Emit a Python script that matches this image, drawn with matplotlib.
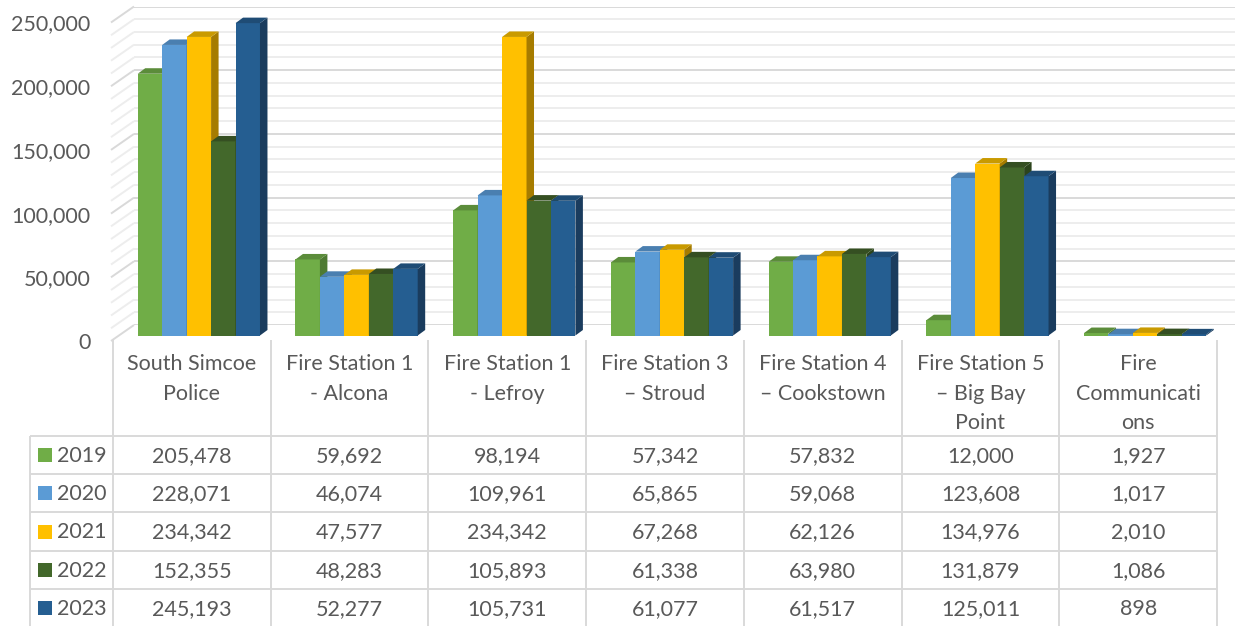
import matplotlib
matplotlib.use("Agg")
import matplotlib.pyplot as plt
from matplotlib.patches import Polygon, Rectangle
from matplotlib.ticker import FuncFormatter, MultipleLocator

# ---------------- data ----------------
categories = ["South Simcoe\nPolice", "Fire Station 1\n- Alcona", "Fire Station 1\n- Lefroy",
              "Fire Station 3\n\u2013 Stroud", "Fire Station 4\n\u2013 Cookstown",
              "Fire Station 5\n\u2013 Big Bay\nPoint", "Fire\nCommunicati\nons"]
years = ["2019", "2020", "2021", "2022", "2023"]
v2019 = [205478, 59692, 98194, 57342, 57832, 12000, 1927]
v2020 = [228071, 46074, 109961, 65865, 59068, 123608, 1017]
v2021 = [234342, 47577, 234342, 67268, 62126, 134976, 2010]
v2022 = [152355, 48283, 105893, 61338, 63980, 131879, 1086]
v2023 = [245193, 52277, 105731, 61077, 61517, 125011, 898]
series = [v2019, v2020, v2021, v2022, v2023]
y_ticks = [0, 50000, 100000, 150000, 200000, 250000]

front_colors = ["#70AD47", "#5B9BD5", "#FFC000", "#43682B", "#255E91"]
top_colors = ["#5B8C3A", "#4A7FB0", "#C99A00", "#354F22", "#1F4C75"]
side_colors = ["#4E7A32", "#3F6E9A", "#A67C00", "#2C441C", "#1A3C5E"]

TXT = "#595959"
GRID = "#D9D9D9"
FONT = "Lato"
FS = 15.5

W, H = 1235, 626
fig = plt.figure(figsize=(W / 100, H / 100), dpi=100)
fig.patch.set_facecolor("white")

def fpos(left_px, top_px, w_px, h_px):
    return [left_px / W, (H - top_px - h_px) / H, w_px / W, h_px / H]

PLOT_H = 318.5
BP_LEFT, BP_BASE = 120, 335.5
BP_W = 1104
WALL_DX, WALL_DY = 14, -10.5
FR_DX, FR_DY = -8, 5.5

bg = fig.add_axes([0, 0, 1, 1])
bg.set_xlim(0, W)
bg.set_ylim(H, 0)
bg.axis("off")

wall = fig.add_axes(fpos(BP_LEFT + WALL_DX, BP_BASE + WALL_DY - PLOT_H, W - (BP_LEFT + WALL_DX), PLOT_H))
wall.set_ylim(0, 250000)
wall.set_xlim(0, 1)
wall.yaxis.set_major_locator(MultipleLocator(50000))
wall.yaxis.set_minor_locator(MultipleLocator(10000))
wall.grid(True, which="major", axis="y", color=GRID, lw=1.4)
wall.grid(True, which="minor", axis="y", color="#EDEDED", lw=1.4)
wall.tick_params(which="both", left=False, bottom=False, labelleft=False, labelbottom=False)
for s in wall.spines.values():
    s.set_visible(False)
wall.patch.set_alpha(0)
wall.set_zorder(1)

front = fig.add_axes(fpos(BP_LEFT + FR_DX, BP_BASE + FR_DY - PLOT_H, BP_W, PLOT_H))
front.set_ylim(0, 250000)
front.set_yticks(y_ticks)
front.yaxis.set_major_formatter(FuncFormatter(lambda v, p: f"{int(v):,}"))
front.tick_params(axis="y", length=0, pad=15.5, labelsize=FS, labelcolor=TXT)
for lab in front.get_yticklabels():
    lab.set_fontfamily(FONT)
front.set_xticks([])
for s in front.spines.values():
    s.set_visible(False)
front.patch.set_alpha(0)
front.set_zorder(0.5)

fig.canvas.draw()
to_bg = bg.transData.inverted()
for v in range(0, 250001, 10000):
    p_back = to_bg.transform(wall.transData.transform((0, v)))
    p_front = to_bg.transform(front.transData.transform((0, v)))
    p_front = (p_front[0] - 1, p_front[1])
    c = GRID if v % 50000 == 0 else "#EDEDED"
    bg.plot([p_front[0], p_back[0]], [p_front[1], p_back[1]], color=c, lw=1.4, zorder=1,
            solid_capstyle="butt")

ax = fig.add_axes(fpos(BP_LEFT, BP_BASE - PLOT_H, BP_W, PLOT_H))
ax.set_xlim(-0.5, 6.5)
ax.set_ylim(0, 250000)
ax.axis("off")
ax.patch.set_alpha(0)
ax.set_zorder(2)

fig.canvas.draw()
inv = ax.transData.inverted()
p0 = ax.transData.transform((0, 0))
d = inv.transform((p0[0] + 7.5, p0[1] + 5.5))
ddx, ddy = d[0], d[1]

n = len(categories)
bw = 0.155
for i in range(n):
    for k, vals in enumerate(series):
        x = i + (k - 2) * bw
        h = vals[i]
        z = 3 + k
        ax.bar(x, h, width=bw, color=front_colors[k], linewidth=0, zorder=z, clip_on=False)
        xl, xr = x - bw / 2, x + bw / 2
        ax.add_patch(Polygon([(xr, 0), (xr + ddx, ddy), (xr + ddx, h + ddy), (xr, h)],
                             closed=True, facecolor=side_colors[k], lw=0, zorder=z, clip_on=False))
        ax.add_patch(Polygon([(xl, h), (xr, h), (xr + ddx, h + ddy), (xl + ddx, h + ddy)],
                             closed=True, facecolor=top_colors[k], lw=0, zorder=z, clip_on=False))

# ---------------- data table ----------------
T_LEFT, T_RIGHT = 113, 1217
LEG_LEFT = 30
col_w = (T_RIGHT - T_LEFT) / n
HDR_TOP, HDR_BOT = 340, 436
ROW_H = 38.2
LW = 1.4

for i in range(n + 1):
    xx = T_LEFT + i * col_w
    bg.plot([xx, xx], [HDR_TOP, H + 2], color=GRID, lw=LW, zorder=1, solid_capstyle="butt")
bg.plot([LEG_LEFT, LEG_LEFT], [HDR_BOT, H + 2], color=GRID, lw=LW, zorder=1, solid_capstyle="butt")
for r in range(len(years) + 1):
    yy = HDR_BOT + r * ROW_H
    bg.plot([LEG_LEFT, T_RIGHT], [yy, yy], color=GRID, lw=LW, zorder=1, solid_capstyle="butt")

for i, cat in enumerate(categories):
    cx = T_LEFT + (i + 0.5) * col_w
    for j, line in enumerate(cat.split("\n")):
        bg.text(cx, 364 + j * 29.5, line, ha="center", va="center", fontsize=FS,
                color=TXT, family=FONT)

for r, (yr, vals) in enumerate(zip(years, series)):
    cy = HDR_BOT + (r + 0.5) * ROW_H
    bg.add_patch(Rectangle((38, cy - 7), 14, 14, facecolor=front_colors[r], lw=0, zorder=2))
    bg.text(57, cy + 1, yr, ha="left", va="center", fontsize=FS, color=TXT, family=FONT)
    for i, v in enumerate(vals):
        cx = T_LEFT + (i + 0.5) * col_w
        bg.text(cx, cy + 1, f"{v:,}", ha="center", va="center", fontsize=FS, color=TXT, family=FONT)

fig.savefig("out.png", dpi=100, facecolor="white")
